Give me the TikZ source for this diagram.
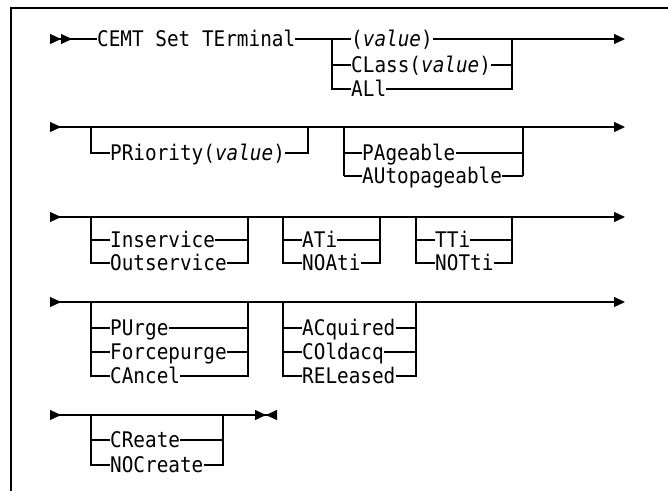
\documentclass[tikz,border=0pt]{standalone}
\usepackage{fontspec}
\setmonofont{DejaVu Sans Mono}[FakeStretch=0.9]
\usepackage{tikz}
\usetikzlibrary{arrows.meta}
\tikzset{
    rail/.style={line width=1.1pt},
    railbegin/.style={rail, {Triangle[reversed, length=11pt, width=10pt]Triangle[reversed, length=11pt, width=10pt]}-},
    railrow/.style={rail, {Triangle[reversed, length=11pt, width=10pt]}-{Triangle[length=11pt, width=10pt]}},
    railend/.style={rail, -{Triangle[length=11pt, width=10pt]}},
    railstop/.style={rail, {Triangle[reversed, length=11pt, width=10pt]}-{Triangle[length=11pt, width=10pt]Triangle[reversed, length=11pt, width=10pt]}},
    kw/.style={anchor=west, inner sep=0pt, text height=15.5pt, text depth=0pt,
        font=\ttfamily\fontsize{21.5}{24}\selectfont},
    frameline/.style={line width=1.6pt}
}

\begin{document}
\begin{tikzpicture}[x=1pt, y=-1pt]
        \useasboundingbox (0,0) rectangle (668,491);
        \draw[frameline] (668,8) -- (11,8) -- (11,491);

        % command and terminal id
        \begin{scope}
            \coordinate (r1s) at (50,39);
            \coordinate (r1e) at (625,39);
            \coordinate (idl) at (332,39);
            \coordinate (idr) at (512,39);
            \node[kw] (cmd) at (97,39) {CEMT Set TErminal};
            \node[kw] (val) at (351,39) {(\textit{value})};
            \node[kw] (cls) at (351,65) {CLass(\textit{value})};
            \node[kw] (all) at (351,89) {ALl};
            \draw[railbegin] (r1s) -- (cmd.west);
            \draw[rail] (cmd.east) -- (val.west);
            \draw[railend] (val.east) -- (r1e);
            \draw[rail] (idl) -- (idl |- all.west) -- (all.west);
            \draw[rail] (idl |- cls.west) -- (cls.west);
            \draw[rail] (cls.east) -- (idr |- cls.east);
            \draw[rail] (all.east) -- (idr |- all.east) -- (idr);
        \end{scope}

        % priority, paging
        \begin{scope}
            \coordinate (r2s) at (50,127);
            \coordinate (r2e) at (625,127);
            \draw[railrow] (r2s) -- (r2e);
            \coordinate (pl) at (91,127);
            \coordinate (pr) at (308,127);
            \node[kw] (pri) at (110,153) {PRiority(\textit{value})};
            \draw[rail] (pl) -- (pl |- pri.west) -- (pri.west);
            \draw[rail] (pri.east) -- (pr |- pri.east) -- (pr);
            \coordinate (gl) at (344,127);
            \coordinate (gr) at (523,127);
            \foreach \n/\t/\y in {pag/PAgeable/153, aut/AUtopageable/176} {
                \node[kw] (\n) at (362,\y) {\t};
                \draw[rail] (gl |- \n.west) -- (\n.west) (\n.east) -- (gr |- \n.east);
            }
            \draw[rail] (gl) -- (gl |- aut.west);
            \draw[rail] (gr) -- (gr |- aut.east);
        \end{scope}

        % service, ati, tti
        \begin{scope}
            \coordinate (r3s) at (50,217);
            \coordinate (r3e) at (625,217);
            \draw[railrow] (r3s) -- (r3e);
            \foreach \l/\r/\n/\t/\m/\u in {91/248/ins/Inservice/out/Outservice,
                                            283/380/ati/ATi/noati/NOAti,
                                            416/512/tti/TTi/notti/NOTti} {
                \coordinate (sl) at (\l,217);
                \coordinate (sr) at (\r,217);
                \node[kw] (\n) at (\l+19,240) {\t};
                \node[kw] (\m) at (\l+19,263) {\u};
                \draw[rail] (sl |- \n.west) -- (\n.west) (\n.east) -- (sr |- \n.east);
                \draw[rail] (sl) -- (sl |- \m.west) -- (\m.west);
                \draw[rail] (\m.east) -- (sr |- \m.east) -- (sr);
            }
        \end{scope}

        % purge, acquire
        \begin{scope}
            \coordinate (r4s) at (50,302);
            \coordinate (r4e) at (625,302);
            \draw[railrow] (r4s) -- (r4e);
            \foreach \l/\r/\a/\b/\c in {91/248/PUrge/Forcepurge/CAncel,
                                         283/416/ACquired/COldacq/RELeased} {
                \coordinate (ql) at (\l,302);
                \coordinate (qr) at (\r,302);
                \node[kw] (o1) at (\l+19,328) {\a};
                \node[kw] (o2) at (\l+19,352) {\b};
                \node[kw] (o3) at (\l+19,376) {\c};
                \draw[rail] (ql |- o1.west) -- (o1.west) (o1.east) -- (qr |- o1.east);
                \draw[rail] (ql |- o2.west) -- (o2.west) (o2.east) -- (qr |- o2.east);
                \draw[rail] (ql) -- (ql |- o3.west) -- (o3.west);
                \draw[rail] (o3.east) -- (qr |- o3.east) -- (qr);
            }
        \end{scope}

        % create
        \begin{scope}
            \coordinate (r5s) at (50,415);
            \coordinate (r5e) at (277,415);
            \coordinate (cl) at (91,415);
            \coordinate (cr) at (223,415);
            \draw[railstop] (r5s) -- (r5e);
            \node[kw] (cre) at (110,440) {CReate};
            \node[kw] (nocre) at (110,465) {NOCreate};
            \draw[rail] (cl |- cre.west) -- (cre.west) (cre.east) -- (cr |- cre.east);
            \draw[rail] (cl) -- (cl |- nocre.west) -- (nocre.west);
            \draw[rail] (nocre.east) -- (cr |- nocre.east) -- (cr);
        \end{scope}
    \end{tikzpicture}
\end{document}
